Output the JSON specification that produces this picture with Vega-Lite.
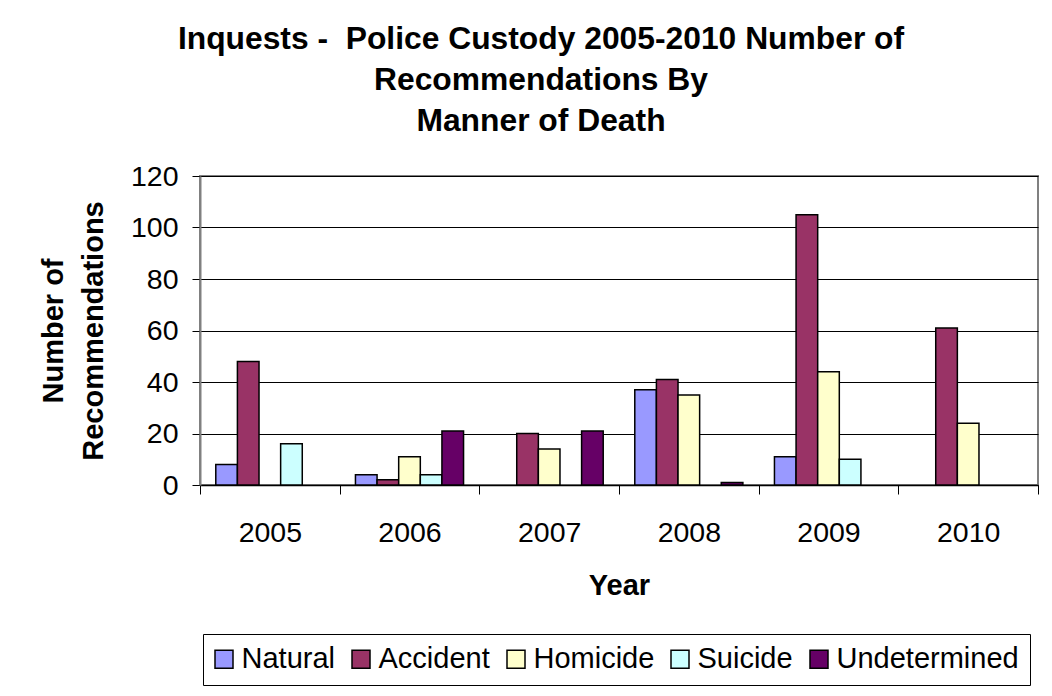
{
  "$schema": "https://vega.github.io/schema/vega-lite/v6.json",
  "width": 838,
  "height": 309,
  "autosize": {"type": "none"},
  "padding": {"left": 200, "top": 176, "right": 14, "bottom": 211},
  "background": "white",
  "title": {
    "text": ["Inquests -\u00a0 Police Custody 2005-2010 Number of", "Recommendations By", "Manner of Death"],
    "font": "Liberation Sans",
    "fontSize": 31.8,
    "fontWeight": "bold",
    "color": "black",
    "lineHeight": 41,
    "anchor": "middle",
    "dx": -78,
    "offset": 24
  },
  "data": {
    "values": [
      {"year": "2005", "manner": "Natural", "count": 8},
      {"year": "2005", "manner": "Accident", "count": 48},
      {"year": "2005", "manner": "Suicide", "count": 16},
      {"year": "2006", "manner": "Natural", "count": 4},
      {"year": "2006", "manner": "Accident", "count": 2},
      {"year": "2006", "manner": "Homicide", "count": 11},
      {"year": "2006", "manner": "Suicide", "count": 4},
      {"year": "2006", "manner": "Undetermined", "count": 21},
      {"year": "2007", "manner": "Accident", "count": 20},
      {"year": "2007", "manner": "Homicide", "count": 14},
      {"year": "2007", "manner": "Undetermined", "count": 21},
      {"year": "2008", "manner": "Natural", "count": 37},
      {"year": "2008", "manner": "Accident", "count": 41},
      {"year": "2008", "manner": "Homicide", "count": 35},
      {"year": "2008", "manner": "Undetermined", "count": 1},
      {"year": "2009", "manner": "Natural", "count": 11},
      {"year": "2009", "manner": "Accident", "count": 105},
      {"year": "2009", "manner": "Homicide", "count": 44},
      {"year": "2009", "manner": "Suicide", "count": 10},
      {"year": "2010", "manner": "Accident", "count": 61},
      {"year": "2010", "manner": "Homicide", "count": 24}
    ]
  },
  "mark": {"type": "bar", "stroke": "black", "strokeWidth": 1.5},
  "encoding": {
    "x": {
      "field": "year",
      "type": "nominal",
      "scale": {"paddingInner": 0, "paddingOuter": 0},
      "axis": {
        "title": "Year",
        "labelAngle": 0,
        "tickBand": "extent",
        "tickSize": 9,
        "tickColor": "black",
        "tickWidth": 1,
        "domainColor": "black",
        "domainWidth": 1.5,
        "labelPadding": 24,
        "titlePadding": 25
      }
    },
    "xOffset": {
      "field": "manner",
      "type": "nominal",
      "scale": {"domain": ["Natural", "Accident", "Homicide", "Suicide", "Undetermined"], "paddingInner": 0, "paddingOuter": 0.73}
    },
    "y": {
      "field": "count",
      "type": "quantitative",
      "scale": {"domain": [0, 120], "nice": false},
      "axis": {
        "title": ["Number of", "Recommendations"],
        "values": [0, 20, 40, 60, 80, 100, 120],
        "grid": true,
        "gridColor": "black",
        "gridWidth": 1,
        "gridOpacity": 1,
        "tickSize": 8,
        "tickColor": "black",
        "domainColor": "#808080",
        "domainWidth": 2,
        "labelPadding": 14,
        "titlePadding": 22,
        "titleLineHeight": 40
      }
    },
    "color": {
      "field": "manner",
      "type": "nominal",
      "scale": {
        "domain": ["Natural", "Accident", "Homicide", "Suicide", "Undetermined"],
        "range": ["#9999FF", "#993366", "#FFFFCC", "#CCFFFF", "#660066"]
      },
      "legend": {
        "title": null,
        "orient": "none",
        "direction": "horizontal",
        "legendX": 3,
        "legendY": 458,
        "padding": 10.5,
        "strokeColor": "black",
        "fillColor": "white",
        "symbolType": "square",
        "symbolSize": 324,
        "symbolStrokeColor": "black",
        "symbolStrokeWidth": 1.5,
        "symbolOpacity": 1,
        "symbolOffset": -4,
        "labelFont": "Liberation Sans",
        "labelFontSize": 29,
        "labelColor": "black",
        "labelOffset": 3,
        "columnPadding": 13,
        "labelLimit": 300
      }
    }
  },
  "config": {
    "font": "Liberation Sans",
    "view": {"stroke": "#808080", "strokeWidth": 2},
    "axis": {
      "labelFont": "Liberation Sans",
      "labelFontSize": 28.5,
      "labelColor": "black",
      "titleFont": "Liberation Sans",
      "titleFontSize": 29,
      "titleFontWeight": "bold",
      "titleColor": "black"
    }
  }
}
